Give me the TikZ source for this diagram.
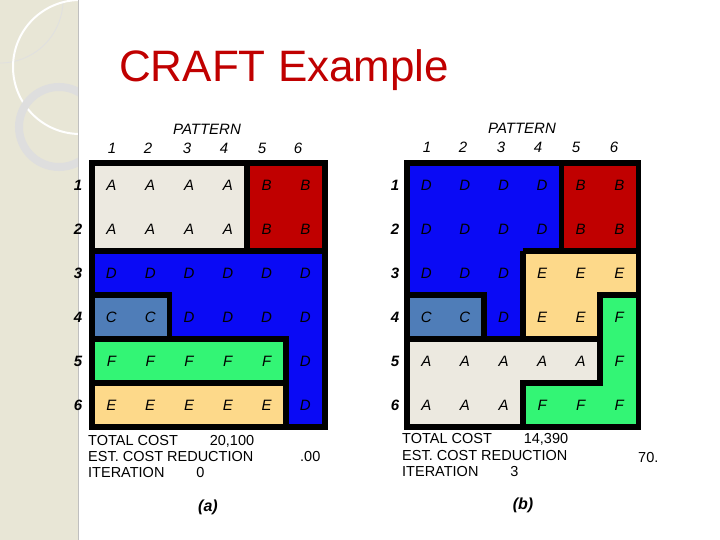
\documentclass[tikz,border=0pt]{standalone}
\usepackage{fontspec}
\setmainfont{Liberation Sans}
\begin{document}
\begin{tikzpicture}[x=1pt,y=-1pt,
  bord/.style={line width=5.5pt,draw=black,line join=miter},
  lab/.style={font=\fontsize{15}{15}\selectfont\itshape,inner sep=0pt},
  txt/.style={font=\fontsize{14.5}{15}\selectfont,inner sep=0pt,anchor=base west}]
\definecolor{cA}{HTML}{ECE9E0}\definecolor{cB}{HTML}{C00000}
\definecolor{cD}{HTML}{0A0AF5}\definecolor{cC}{HTML}{4F7DB8}
\definecolor{cF}{HTML}{33F575}\definecolor{cE}{HTML}{FDD98A}
\definecolor{strip}{HTML}{E8E6D6}
\useasboundingbox (0,0) rectangle (720,540);
\fill[white] (0,0) rectangle (720,540);
% left decoration
\fill[strip] (0,0) rectangle (78,540);
\begin{scope}
\clip (0,0) rectangle (78,540);
\draw[black!12,line width=0.8pt] (0,0) circle (63);
\draw[white,line width=2pt] (80,67) circle (67);
\draw[black!13,line width=8pt] (59,127) circle (40);
\end{scope}
\draw[gray!50,line width=1pt] (78,0) -- (78,540);
\node[font=\fontsize{44}{44}\selectfont,text=cB,anchor=base west,inner sep=0pt] (title) at (119,82) {CRAFT Example};
% ---------- left grid
\begin{scope}[shift={(92,163)},xscale=38.8,yscale=44]
\fill[cA] (0,0) rectangle (4,2);
\fill[cB] (4,0) rectangle (6,2);
\fill[cD] (0,2)--(6,2)--(6,6)--(5,6)--(5,4)--(2,4)--(2,3)--(0,3)--cycle;
\fill[cC] (0,3) rectangle (2,4);
\fill[cF] (0,4) rectangle (5,5);
\fill[cE] (0,5) rectangle (5,6);
\draw[bord] (4,0)--(4,2) (0,2)--(6,2) (0,3)--(2,3)--(2,4) (0,4)--(5,4)--(5,6) (0,5)--(5,5);
\draw[bord] (0,0) rectangle (6,6);
\end{scope}
\foreach \r in {1,...,6}{\node[lab] (lr\r) at (78,{163+44*(\r-0.5)}) {\bfseries\r};}
\def\cellrow#1#2#3#4#5#6#7#8#9{%
  \foreach \c/\l in {1/#3,2/#4,3/#5,4/#6,5/#7,6/#8}{%
    \ifx\l D\node[lab,text=black!60!cD] at ({#1+38.8*(\c-0.5)},{163+44*(#2-0.5)}) {\l};%
    \else\ifx\l B\node[lab,text=black!70!cB] at ({#1+38.8*(\c-0.5)},{163+44*(#2-0.5)}) {\l};%
    \else\node[lab] at ({#1+38.8*(\c-0.5)},{163+44*(#2-0.5)}) {\l};\fi\fi}}
\cellrow{92}{1}AAAABB{}
\cellrow{92}{2}AAAABB{}
\cellrow{92}{3}DDDDDD{}
\cellrow{92}{4}CCDDDD{}
\cellrow{92}{5}FFFFFD{}
\cellrow{92}{6}EEEEED{}
\foreach \c/\x in {1/112,2/148,3/187,4/224,5/262,6/298}{\node[lab] (lc\c) at (\x,148) {\c};}
\node[lab] (lp) at (207,129) {PATTERN};
\node[txt] (lt1) at (88,445) {TOTAL COST\hspace{2.2em}20,100};
\node[txt] (lt2) at (88,461) {EST. COST REDUCTION};
\node[txt] (lt3) at (88,477) {ITERATION\hspace{2.2em}0};
\node[txt] (lt4) at (300,461) {.00};
\node[lab,font=\fontsize{16}{16}\selectfont\itshape\bfseries] (la) at (208,507) {(a)};
% ---------- right grid
\begin{scope}[shift={(407,163)},xscale=38.6,yscale=44]
\fill[cD] (0,0)--(4,0)--(4,2)--(3,2)--(3,4)--(2,4)--(2,3)--(0,3)--cycle;
\fill[cB] (4,0) rectangle (6,2);
\fill[cE] (3,2)--(6,2)--(6,3)--(5,3)--(5,4)--(3,4)--cycle;
\fill[cC] (0,3) rectangle (2,4);
\fill[cF] (5,3)--(6,3)--(6,6)--(3,6)--(3,5)--(5,5)--cycle;
\fill[cA] (0,4)--(5,4)--(5,5)--(3,5)--(3,6)--(0,6)--cycle;
\draw[bord] (4,0)--(4,2) (3,2)--(6,2) (3,2)--(3,4) (0,3)--(2,3)--(2,4) (0,4)--(5,4) (6,3)--(5,3)--(5,5)--(3,5)--(3,6);
\draw[bord] (0,0) rectangle (6,6);
\end{scope}
\foreach \r in {1,...,6}{\node[lab] (rr\r) at (395,{163+44*(\r-0.5)}) {\bfseries\r};}
\def\cellrowR#1#2#3#4#5#6#7#8{%
  \foreach \c/\l in {1/#2,2/#3,3/#4,4/#5,5/#6,6/#7}{%
    \ifx\l D\node[lab,text=black!60!cD] at ({407+38.6*(\c-0.5)},{163+44*(#1-0.5)}) {\l};%
    \else\ifx\l B\node[lab,text=black!70!cB] at ({407+38.6*(\c-0.5)},{163+44*(#1-0.5)}) {\l};%
    \else\node[lab] at ({407+38.6*(\c-0.5)},{163+44*(#1-0.5)}) {\l};\fi\fi}}
\cellrowR{1}DDDDBB{}
\cellrowR{2}DDDDBB{}
\cellrowR{3}DDDEEE{}
\cellrowR{4}CCDEEF{}
\cellrowR{5}AAAAAF{}
\cellrowR{6}AAAFFF{}
\foreach \c/\x in {1/427,2/463,3/501,4/538,5/576,6/614}{\node[lab] (rc\c) at (\x,147) {\c};}
\node[lab] (rp) at (522,128) {PATTERN};
\node[txt] (rt1) at (402,443) {TOTAL COST\hspace{2.2em}14,390};
\node[txt] (rt2) at (402,460) {EST. COST REDUCTION};
\node[txt] (rt3) at (402,476) {ITERATION\hspace{2.2em}3};
\node[txt] (rt4) at (638,462) {70.};
\node[lab,font=\fontsize{16}{16}\selectfont\itshape\bfseries] (lb) at (523,505) {(b)};
\end{tikzpicture}
\end{document}
